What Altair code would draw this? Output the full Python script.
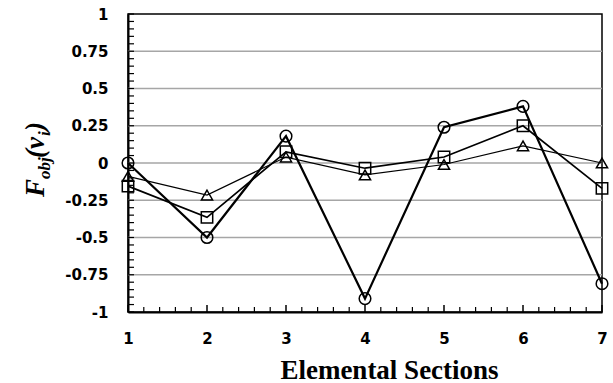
import altair as alt
import pandas as pd

# ---- data ----
sections = [1, 2, 3, 4, 5, 6, 7]
circle_vals = [0.0, -0.5, 0.18, -0.91, 0.24, 0.38, -0.81]
square_vals = [-0.155, -0.365, 0.075, -0.035, 0.04, 0.25, -0.17]
triangle_vals = [-0.09, -0.215, 0.04, -0.08, -0.01, 0.115, 0.0]
series_names = ["circle", "square", "triangle"]

y_tick_values = [-1, -0.75, -0.5, -0.25, 0, 0.25, 0.5, 0.75, 1]
y_grid_values = [-0.75, -0.5, -0.25, 0, 0.25, 0.5, 0.75]
x_minor_ticks = [round(1 + 0.2 * i, 2) for i in range(31)]
y_minor_ticks = [round(-1 + 0.05 * i, 2) for i in range(41)]

W, H = 474, 298

rows = []
for name, vals in zip(series_names, [circle_vals, square_vals, triangle_vals]):
    for s, v in zip(sections, vals):
        rows.append({"section": s, "value": v, "series": name})
df = pd.DataFrame(rows)

x_scale = alt.Scale(domain=[1, 7], nice=False, zero=False)
y_scale = alt.Scale(domain=[-1, 1], nice=False, zero=False)

x_axis = alt.Axis(
    values=sections, ticks=False, grid=False, domainColor="black", domainWidth=2,
    labelFont="DejaVu Sans", labelFontWeight="bold", labelFontSize=15, labelColor="black",
    labelPadding=19, labelFlush=False,
    title="Elemental Sections",
    titleFont="Liberation Serif", titleFontWeight="bold", titleFontSize=27, titleColor="black",
    titleX=261, titleY=66, titleBaseline="alphabetic", titleAlign="center",
)
y_axis = alt.Axis(
    values=y_tick_values, ticks=False, grid=False, domainColor="black", domainWidth=2,
    labelFont="DejaVu Sans", labelFontWeight="bold", labelFontSize=15, labelColor="black",
    labelPadding=20, labelFlush=False, labelExpr="toString(datum.value)", title=None,
)

def X(field):
    return alt.X(field, scale=x_scale, axis=x_axis)

def Y(field):
    return alt.Y(field, scale=y_scale, axis=y_axis)

grid = alt.Chart(pd.DataFrame({"g": y_grid_values})).mark_rule(
    color="#a6a6a6", strokeWidth=1.5
).encode(y=Y("g:Q"))

xt = pd.DataFrame({"t": x_minor_ticks})
xt["major"] = xt["t"].apply(lambda v: abs(v - round(v)) < 1e-9)
x_ticks_minor = alt.Chart(xt).transform_filter("!datum.major").mark_rule(
    color="black", strokeWidth=1.2
).encode(x=X("t:Q"), y=alt.value(H), y2=alt.value(H - 5))
x_ticks_major = alt.Chart(xt).transform_filter("datum.major").mark_rule(
    color="black", strokeWidth=1.5
).encode(x=X("t:Q"), y=alt.value(H), y2=alt.value(H - 7))

yt = pd.DataFrame({"t": y_minor_ticks})
y_ticks = alt.Chart(yt).mark_rule(color="black", strokeWidth=1.2).encode(
    y=Y("t:Q"), x=alt.value(0), x2=alt.value(6)
)

lines = alt.Chart(df).mark_line(color="black").encode(
    x=X("section:Q"),
    y=Y("value:Q"),
    detail="series:N",
    strokeWidth=alt.StrokeWidth(
        "series:N",
        scale=alt.Scale(domain=series_names, range=[2.2, 1.2, 1.9]),
        legend=None,
    ),
)

points = alt.Chart(df).mark_point(filled=False, color="black", strokeWidth=1.5, opacity=1).encode(
    x=X("section:Q"),
    y=Y("value:Q"),
    shape=alt.Shape(
        "series:N",
        scale=alt.Scale(domain=series_names, range=["circle", "square", "triangle-up"]),
        legend=None,
    ),
    size=alt.Size(
        "series:N",
        scale=alt.Scale(domain=series_names, range=[135, 125, 120]),
        legend=None,
    ),
)

# y-axis title F_obj(v_i), composed of pieces (rotated)
def piece(text, x, y, size):
    return alt.Chart(pd.DataFrame({"t": [text]})).mark_text(
        angle=270, align="left", baseline="alphabetic",
        font="Liberation Serif", fontStyle="italic", fontWeight="bold",
        fontSize=size, color="black",
    ).encode(text="t:N", x=alt.value(x), y=alt.value(y))

title_parts = [
    piece("F", -84, 183, 27),
    piece("obj", -78, 165, 17),
    piece("(v", -84, 144, 27),
    piece("i", -78, 122, 17),
    piece(")", -84, 117, 27),
]

chart = alt.layer(
    grid, x_ticks_minor, x_ticks_major, y_ticks, lines, points, *title_parts
).properties(
    width=W, height=H,
    autosize=alt.AutoSizeParams(type="none"),
    padding={"left": 128, "top": 14, "right": 11, "bottom": 71},
    background="white",
).configure_view(stroke="black", strokeWidth=1.5)

chart.save("out.html", embed_options={"renderer": "svg", "actions": False})
